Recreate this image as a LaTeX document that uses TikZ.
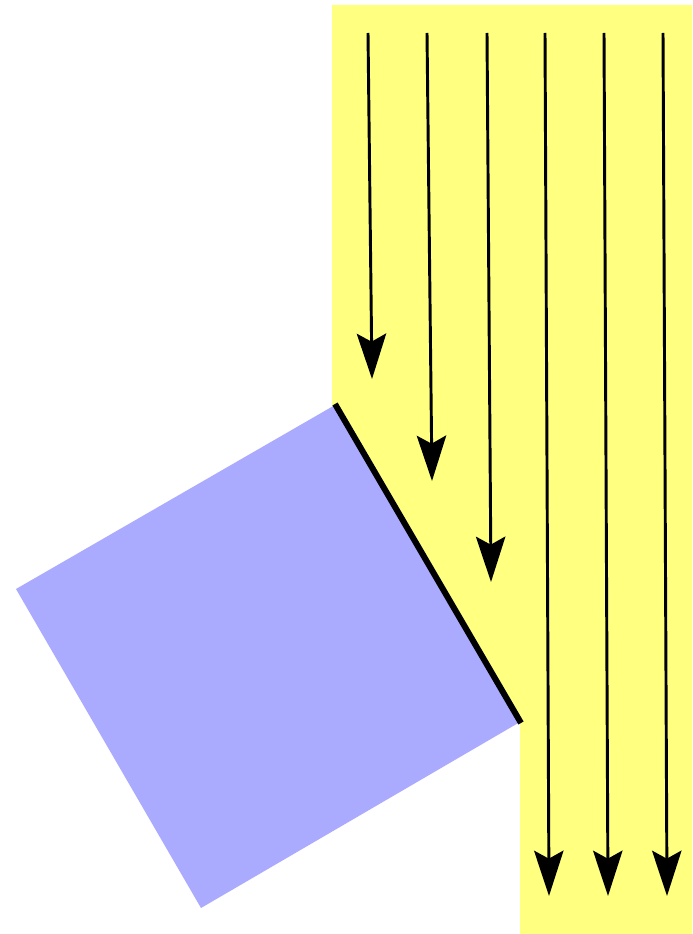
\documentclass[tikz,border=0pt]{standalone}
\usetikzlibrary{arrows.meta}

\definecolor{beamfill}{RGB}{255,255,128}
\definecolor{blockfill}{RGB}{170,170,255}

\tikzset{every picture/.style={line width=0.75pt}}
\tikzset{ray/.style={line width=2.2pt,-{Stealth[length=34pt,width=22pt,inset=6pt]}}}

\begin{document}
\begin{tikzpicture}[x=0.75pt,y=0.75pt,yscale=-1,xscale=1]
	\path[use as bounding box] (0,0) rectangle (692,934);
	
	%Shape: Polygon [id:beam] 
	\fill [beamfill] (332,5) -- (692,5) -- (692,934) -- (520,934) -- (520,722) -- (335,405) -- (332,405) -- cycle ;
	%Shape: Square [id:block] 
	\fill [blockfill] (335,405) -- (520,722) -- (201,908) -- (16,589) -- cycle ;
	
	\coordinate (face1) at (335,404) ;
	\coordinate (face2) at (521,723) ;
	%Straight Lines [id:face] 
	\draw [line width=4.5pt] (face1) -- (face2) ;
	
	\coordinate (s1) at (368,33) ;
	\coordinate (e1) at (372,379) ;
	\coordinate (s2) at (427,33) ;
	\coordinate (e2) at (432,481) ;
	\coordinate (s3) at (487,33) ;
	\coordinate (e3) at (491,582) ;
	\coordinate (s4) at (545,33) ;
	\coordinate (e4) at (549,896) ;
	\coordinate (s5) at (604,33) ;
	\coordinate (e5) at (608,896) ;
	\coordinate (s6) at (663,33) ;
	\coordinate (e6) at (667,896) ;
	
	%Straight Lines [id:ray1] 
	\draw [ray] (s1) -- (e1) ;
	%Straight Lines [id:ray2] 
	\draw [ray] (s2) -- (e2) ;
	%Straight Lines [id:ray3] 
	\draw [ray] (s3) -- (e3) ;
	%Straight Lines [id:ray4] 
	\draw [ray] (s4) -- (e4) ;
	%Straight Lines [id:ray5] 
	\draw [ray] (s5) -- (e5) ;
	%Straight Lines [id:ray6] 
	\draw [ray] (s6) -- (e6) ;
	
\end{tikzpicture}
\end{document}
